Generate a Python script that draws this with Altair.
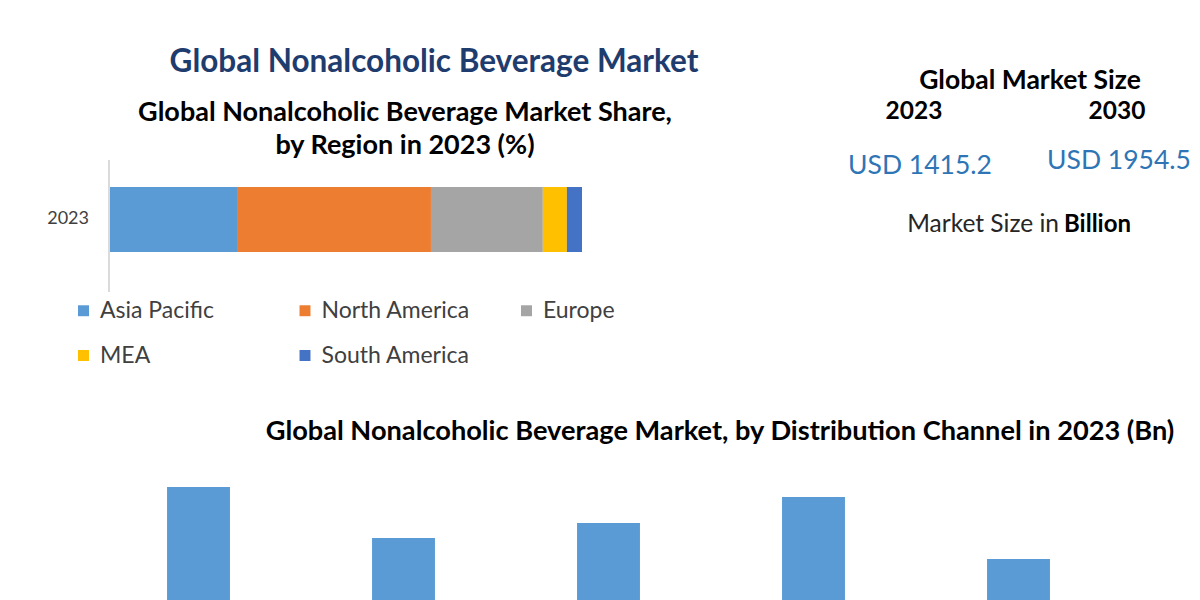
import altair as alt
import pandas as pd

# ---- data ----
regions = ["Asia Pacific", "North America", "Europe", "MEA", "South America"]
region_share = [27.1, 40.9, 23.7, 5.1, 3.2]
region_colors = ["#5B9BD5", "#ED7D31", "#A5A5A5", "#FFC000", "#4472C4"]
share_year = ["2023"] * 5

channels = ["Supermarkets/Hypermarkets", "Convenience Stores", "Specialty Stores", "Online Retail", "Others"]
channel_values = [323.0, 262.6, 280.4, 311.2, 238.0]

market_years = ["2023", "2030"]
market_values = ["USD 1415.2", "USD 1954.5"]

FONT = "Lato"

share_df = pd.DataFrame({
    "region": regions,
    "share": region_share,
    "year": share_year,
    "rank": list(range(len(regions))),
})
chan_df = pd.DataFrame({"channel": channels, "value": channel_values})

# ---- stacked share bar ----
share_bar = alt.Chart(share_df).mark_bar(size=65).encode(
    x=alt.X("share:Q", stack="zero", scale=alt.Scale(domain=[0, 100], range=[110, 582]), axis=None),
    y=alt.Y("year:N", scale=alt.Scale(range=[187, 252], paddingInner=0, paddingOuter=0), axis=None),
    color=alt.Color(
        "region:N",
        sort=regions,
        scale=alt.Scale(domain=regions, range=region_colors),
        legend=alt.Legend(
            title=None,
            orient="none",
            legendX=72,
            legendY=299,
            direction="horizontal",
            columns=3,
            gridAlign="all",
            columnPadding=44.5,
            rowPadding=21,
            symbolType="square",
            symbolSize=120,
            symbolStrokeWidth=0,
            labelFontSize=23,
            labelFont=FONT,
            labelColor="#404040",
            labelOffset=5,
            labelLimit=300,
        ),
    ),
    order=alt.Order("rank:Q"),
)

axis_line = alt.Chart(share_df).mark_rule(color="#d9d9d9", strokeWidth=1).encode(
    x=alt.value(109), y=alt.value(160), y2=alt.value(292)
)

year_label = alt.Chart(pd.DataFrame({"t": ["2023"]})).mark_text(
    font=FONT, fontSize=18, color="#404040", align="right", baseline="middle"
).encode(text="t:N", x=alt.value(89), y=alt.value(219))

# ---- distribution channel bars ----
chan_bar = alt.Chart(chan_df).mark_bar(color="#5B9BD5").encode(
    x=alt.X("channel:N", sort=channels,
            scale=alt.Scale(range=[96, 1121], paddingInner=0.693, paddingOuter=0.3465), axis=None),
    y=alt.Y("value:Q", scale=alt.Scale(domain=[0, 400], range=[760, 422]), axis=None),
)

# ---- texts ----
def txt(s, x, y, size, color="#000000", weight="bold", align="center"):
    return alt.Chart(pd.DataFrame({"t": [s]})).mark_text(
        font=FONT, fontSize=size, fontWeight=weight, color=color, align=align, baseline="middle"
    ).encode(text="t:N", x=alt.value(x), y=alt.value(y))

texts = [
    txt("Global Nonalcoholic Beverage Market", 434, 63, 31.5, color="#1F3C6E"),
    txt("Global Nonalcoholic Beverage Market Share,", 405, 113, 27),
    txt("by Region in 2023 (%)", 405, 146, 27),
    txt("Global Market Size", 1030, 81, 26.5),
    txt(market_years[0], 914, 112, 24.5),
    txt(market_years[1], 1117, 112, 24.5),
    txt(market_values[0], 920, 166, 26.5, color="#2E75B6", weight="normal"),
    txt(market_values[1], 1119, 161, 26.5, color="#2E75B6", weight="normal"),
    txt("Market Size in", 1059, 225, 24.5, color="#262626", weight="normal", align="right"),
    txt("Billion", 1064, 225, 24, color="#000000", weight="bold", align="left"),
    txt("Global Nonalcoholic Beverage Market, by Distribution Channel  in 2023 (Bn)", 720, 432, 27.2),
]

chart = alt.layer(share_bar, axis_line, year_label, chan_bar, *texts).resolve_scale(
    x="independent", y="independent"
).properties(
    width=1200, height=600, padding=0, autosize=alt.AutoSizeParams(type="none"), background="white"
).configure_view(stroke=None)

chart.save("out.html", embed_options={"renderer": "svg", "actions": False})
